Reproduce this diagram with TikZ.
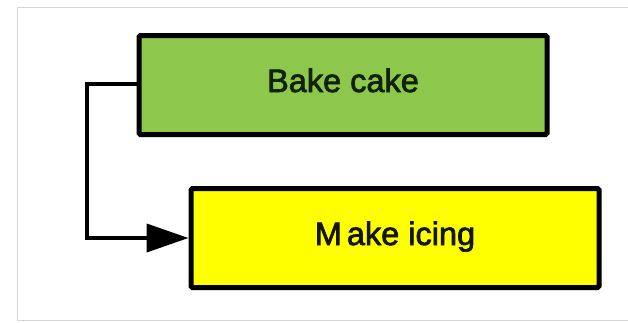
\documentclass[tikz,border=0pt]{standalone}
\usepackage{fontspec}
\setmainfont{Liberation Sans}
\newfontfamily\boxfont[FakeBold=2.2]{Liberation Sans}
\usetikzlibrary{arrows.meta}
\definecolor{cakegreen}{HTML}{8DC84C}
\definecolor{icingyellow}{HTML}{FFFF00}
\definecolor{framegray}{HTML}{D4D4D4}
\definecolor{greentext}{HTML}{112208}
\definecolor{yellowtext}{HTML}{151505}
\tikzset{
  taskbox/.style={draw=black, line width=5pt, rounded corners=1.5pt,
    minimum width=408pt, minimum height=99pt, inner sep=0pt,
    text height=22pt, text depth=8pt,
    font=\boxfont\fontsize{32.5}{38}\selectfont},
  flow/.style={line width=4pt, -{Triangle[length=42pt,width=28pt]}}
}
\begin{document}
\begin{tikzpicture}[x=1pt,y=-1pt]
\useasboundingbox (0,0) rectangle (628,322);
\draw[framegray, line width=1.5pt] (628,7.5) -- (17.5,7.5) -- (17.5,320.5) -- (628,320.5);
\node[taskbox, fill=cakegreen, text=greentext] (bake) at (343,85) {Bake cake};
\node[taskbox, fill=icingyellow, text=yellowtext] (icing) at (395,238) {M\kern5pt ake icing};
\coordinate (c1) at (87,84);
\draw[flow] (bake.west |- c1) -- (c1) |- (icing.west);
\end{tikzpicture}
\end{document}
